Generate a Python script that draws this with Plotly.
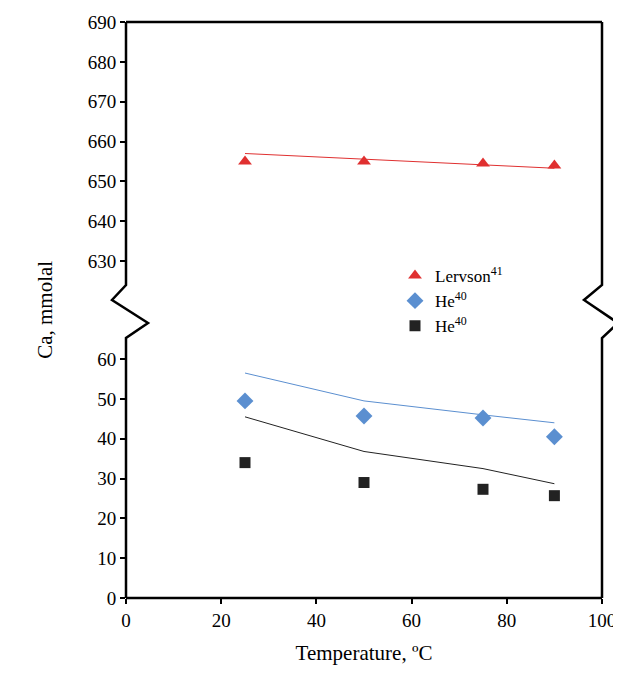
import plotly.graph_objects as go

# data
temps = [25, 50, 75, 90]
lervson_pts = [655, 655, 654.5, 654]
lervson_fit = [657, 655.6, 654.2, 653.3]
he_blue_pts = [49.5, 45.7, 45.2, 40.5]
he_blue_fit = [56.5, 49.5, 46, 44]
he_black_pts = [34, 29, 27.3, 25.7]
he_black_fit = [45.5, 36.8, 32.5, 28.7]

red = '#e03030'
blue = '#5b8fd0'
black = '#222222'

fig = go.Figure()
fig.add_trace(go.Scatter(x=temps, y=lervson_fit, mode='lines', line=dict(color=red, width=1),
                         yaxis='y2', showlegend=False))
fig.add_trace(go.Scatter(x=temps, y=lervson_pts, mode='markers', yaxis='y2', name='Lervson<sup>41</sup>',
                         marker=dict(symbol='triangle-up', size=12, color=red)))
fig.add_trace(go.Scatter(x=temps, y=he_blue_fit, mode='lines', line=dict(color=blue, width=1), showlegend=False))
fig.add_trace(go.Scatter(x=temps, y=he_blue_pts, mode='markers', name='He<sup>40</sup>',
                         marker=dict(symbol='diamond', size=13, color=blue)))
fig.add_trace(go.Scatter(x=temps, y=he_black_fit, mode='lines', line=dict(color=black, width=1), showlegend=False))
fig.add_trace(go.Scatter(x=temps, y=he_black_pts, mode='markers', name='He<sup>40</sup>',
                         marker=dict(symbol='square', size=11, color=black)))

# page has an 8px body margin; plot area in page px: x 126..602, y 22..598
OFF = 8
FW, FH = 621 - OFF, 673 - OFF
L, R, T, B = 126, 602, 22, 598
W, H = R - L, B - T
def px(x): return (x - L) / W
def py(y): return (B - y) / H

tick = dict(ticks='outside', ticklen=5, tickwidth=1.5, tickcolor='black', showgrid=False,
            zeroline=False, showline=False, tickfont=dict(size=19, color='black'))
fig.update_layout(
    width=FW, height=FH, plot_bgcolor='white', paper_bgcolor='white',
    margin=dict(l=L - OFF, r=FW - (R - OFF), t=T - OFF, b=FH - (B - OFF), autoexpand=False),
    font=dict(family='Liberation Serif', color='black'),
    xaxis=dict(range=[0, 100], dtick=20, title=dict(text='Temperature, ºC', font=dict(size=21)), **tick),
    yaxis=dict(range=[0, 65.3], domain=[0, py(338)], tickvals=list(range(0, 61, 10)), **tick),
    yaxis2=dict(range=[624, 690], domain=[py(285), 1], tickvals=list(range(630, 691, 10)), **tick),
    legend=dict(x=px(395), y=py(258), xanchor='left', yanchor='top', bgcolor='rgba(0,0,0,0)',
                font=dict(size=17), tracegroupgap=4),
    annotations=[dict(text='Ca, mmolal', xref='paper', yref='paper', x=-0.2, y=0.5,
                      textangle=-90, showarrow=False, font=dict(size=21))],
)

def pt(x, y): return f'{px(x)} {py(y)}'
frame_l = f'M {pt(L,T)} L {pt(L,285)} L {pt(112,300)} L {pt(148,323)} L {pt(L,338)} L {pt(L,B)}'
frame_r = f'M {pt(R,T)} L {pt(R,285)} L {pt(584,300)} L {pt(618,323)} L {pt(R,338)} L {pt(R,B)}'
for p in [frame_l, frame_r, f'M {pt(L,T)} L {pt(R,T)}', f'M {pt(L,B)} L {pt(R,B)}']:
    fig.add_shape(type='path', path=p, xref='paper', yref='paper',
                  line=dict(color='black', width=2.5))

fig.write_html('out.html')
